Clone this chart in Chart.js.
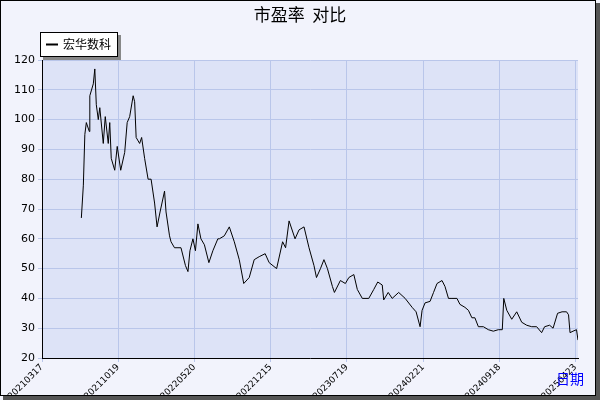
<!DOCTYPE html>
<html>
<head>
<meta charset="utf-8">
<script src="https://cdn.jsdelivr.net/npm/chart.js@4/dist/chart.umd.min.js"></script>
<style>
  html, body { margin: 0; padding: 0; background: #fff; }
  #wrap { width: 600px; height: 400px; }
</style>
</head>
<body>
<div id="wrap"><canvas id="peChart" width="600" height="400"></canvas></div>
<script>
// trading-day index (153 days per tick interval) and P/E values
const days = [79, 83, 86, 89, 95, 96, 103, 106, 109, 113, 116, 123, 127, 133, 136, 139, 146, 151, 158, 166,
    171, 176, 183, 186, 189, 196, 200, 206, 213, 219, 226, 231, 237, 246, 249, 256, 259, 266, 273, 279,
    288, 293, 297, 303, 308, 313, 319, 326, 335, 343, 353, 356, 366, 376, 386, 396, 405, 416, 426, 436,
    448, 456, 471, 483, 489, 496, 508, 516, 526, 536, 546, 551, 559, 566, 573, 583, 587, 599, 609, 616,
    626, 633, 643, 656, 666, 674, 683, 686, 695, 703, 716, 729, 743, 751, 759, 763, 769, 779, 786, 793,
    803, 809, 816, 823, 833, 839, 849, 856, 863, 869, 876, 886, 896, 906, 916, 924, 927, 933, 943, 953,
    963, 973, 983, 993, 1003, 1009, 1019, 1026, 1035, 1044, 1053, 1057, 1060, 1066, 1073, 1076];
const peValues = [67, 78, 95, 99, 96, 108, 112, 117, 105, 100, 104, 92, 101, 92, 99, 87, 83, 91, 83, 89,
    99, 101, 108, 106, 94, 92, 94, 87, 80, 80, 72, 64, 69, 76, 69, 61, 59, 57, 57, 57,
    51, 49, 56, 60, 56, 65, 60, 58, 52, 56, 60, 60, 61, 64, 59, 53, 45, 47, 53, 54,
    55, 52, 50, 59, 57, 66, 60, 63, 64, 57, 51, 47, 50, 53, 50, 44, 42, 46, 45, 47,
    48, 43, 40, 40, 43, 45.5, 44.5, 39.5, 42, 40, 42, 40, 37, 35.5, 30.5, 36, 38.5, 39, 42, 45,
    46, 44, 40, 40, 40, 38, 37, 36, 33.5, 33.5, 30.5, 30.5, 29.5, 29, 29.5, 29.5, 40, 36, 33, 35.5,
    32, 31, 30.5, 30.5, 28.5, 30.5, 31, 30, 35, 35.5, 35.5, 34.5, 28.5, 29, 29.5, 26];
const tickDays = [0, 153, 306, 459, 612, 765, 918, 1071];
const tickLabels = ['20210317', '20211019', '20220520', '20221215', '20230719', '20240221', '20240918', '20250423'];

const points = days.map((d, i) => ({ x: d, y: peValues[i] }));

const decor = {
    id: 'decor',
    beforeDraw(chart) {
        const c = chart.ctx;
        const a = chart.chartArea;
        c.save();
        c.fillStyle = '#f2f3fc';
        c.fillRect(0, 0, 600, 400);
        c.fillStyle = '#dde3f7';
        c.fillRect(a.left, a.top, a.right - a.left, a.bottom - a.top);
        c.restore();
    },
    afterDraw(chart) {
        const c = chart.ctx;
        c.save();
        // outer frame with shadow
        c.fillStyle = '#555';
        c.fillRect(596, 3, 4, 397);
        c.fillRect(3, 396, 597, 4);
        c.strokeStyle = '#000';
        c.lineWidth = 1;
        c.strokeRect(0.5, 0.5, 595, 395);
        // title
        c.fillStyle = '#000';
        c.font = '17px "Noto Sans CJK SC"';
        c.textAlign = 'center';
        c.textBaseline = 'middle';
        c.fillText('市盈率  对比', 300, 15);
        // legend
        c.fillStyle = '#888';
        c.fillRect(43, 35, 78, 25);
        c.fillStyle = '#fff';
        c.fillRect(40, 32, 78, 25);
        c.strokeStyle = '#000';
        c.strokeRect(40.5, 32.5, 77, 24);
        c.beginPath();
        c.moveTo(46, 44.5);
        c.lineTo(58, 44.5);
        c.lineWidth = 2;
        c.stroke();
        c.fillStyle = '#000';
        c.font = '12px "Noto Sans CJK SC"';
        c.textAlign = 'left';
        c.fillText('宏华数科', 63, 44);
        // x axis title
        c.fillStyle = '#0000ff';
        c.font = '14px "Noto Sans CJK SC"';
        c.fillText('日期', 556, 379);
        c.restore();
    }
};

new Chart(document.getElementById('peChart'), {
    type: 'line',
    data: {
        datasets: [{
            label: '宏华数科',
            data: points,
            borderColor: '#000',
            borderWidth: 1,
            pointRadius: 0,
            tension: 0
        }]
    },
    options: {
        responsive: false,
        animation: false,
        layout: { padding: { left: 0, right: 22, top: 60, bottom: 0 } },
        plugins: { legend: { display: false }, title: { display: false }, tooltip: { enabled: false } },
        scales: {
            x: {
                type: 'linear',
                min: 0,
                max: 1076,
                afterBuildTicks: (axis) => { axis.ticks = tickDays.map(v => ({ value: v })); },
                afterFit: (axis) => { axis.height = 42; },
                ticks: {
                    autoSkip: false,
                    maxRotation: 45,
                    minRotation: 45,
                    padding: 0,
                    color: '#000',
                    font: { family: 'DejaVu Sans', size: 9 },
                    callback: (v) => tickLabels[tickDays.indexOf(v)] || ''
                },
                grid: { color: '#b9c6ea', tickLength: 4 },
                border: { color: '#000' }
            },
            y: {
                min: 20,
                max: 120,
                afterFit: (axis) => { axis.width = 42; },
                ticks: { stepSize: 10, color: '#000', font: { family: 'DejaVu Sans', size: 11 } },
                grid: { color: '#b9c6ea', tickLength: 4 },
                border: { color: '#000' }
            }
        }
    },
    plugins: [decor]
});
</script>
</body>
</html>
